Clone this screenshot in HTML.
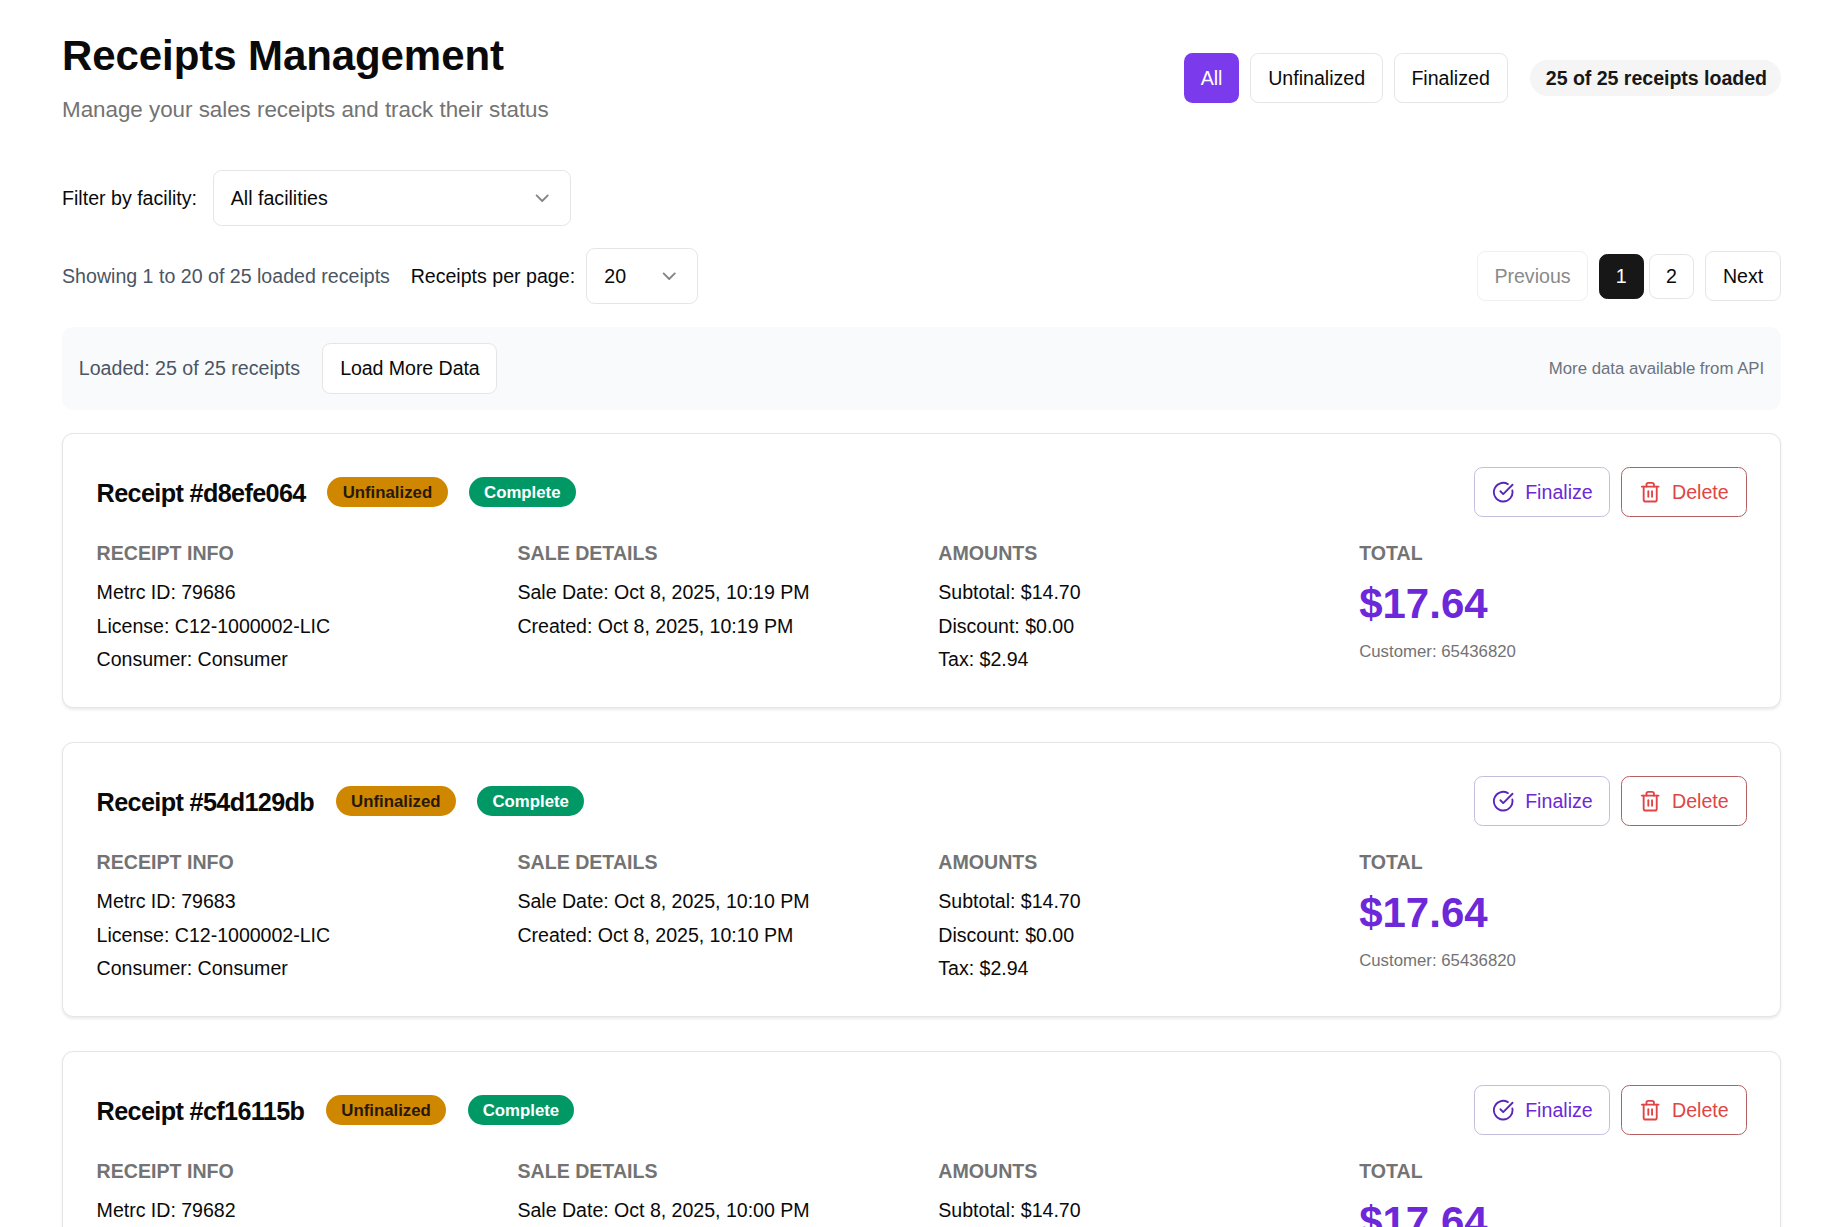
<!DOCTYPE html>
<html lang="en">
<head>
<meta charset="utf-8">
<title>Receipts Management</title>
<style>
*{box-sizing:border-box;margin:0;padding:0}
html,body{background:#fff;overflow:hidden}
body{font-family:"Liberation Sans",sans-serif;color:#0a0a0a;width:1845px;height:1227px}
#z{zoom:1.4;width:1317.86px}
.wrap{margin-left:44.3px;width:1227.86px;padding-top:22.2px}
.hdr{display:flex;justify-content:space-between;align-items:center}
h1{font-size:30px;line-height:36px;font-weight:700;letter-spacing:-0.06px}
.sub{letter-spacing:-0.017px;font-size:16px;line-height:24px;color:#737373;margin-top:8px}
.tabs{display:flex;align-items:center;gap:8px;position:relative;top:-0.5px}
.btn{display:inline-flex;align-items:center;justify-content:center;height:36px;padding:0 12px;border:1px solid #e5e5e5;border-radius:6px;font-size:14px;line-height:20px;font-weight:400;background:#fff;color:#0a0a0a;white-space:nowrap}
.btn.purple{background:#7c3aed;border:0;color:#fff}
.pill{display:inline-flex;align-items:center;border-radius:9999px;background:#f5f5f5;color:#171717;font-size:14px;font-weight:700;line-height:20px;padding:2.8px 10px 2.8px 11.3px;letter-spacing:-0.028px;margin-left:8px;white-space:nowrap;position:relative;top:0.15px}
.frow{display:flex;align-items:center;gap:11.4px;margin-top:31.4px;font-size:14px;line-height:20px}
.sel{display:flex;align-items:center;justify-content:space-between;height:40px;border:1px solid #e5e5e5;border-radius:6px;padding:0 12px;font-size:14px;background:#fff}
.sel svg{width:16px;height:16px;stroke:#848484;fill:none;stroke-width:2;stroke-linecap:round;stroke-linejoin:round}
.prow{display:flex;align-items:center;justify-content:space-between;margin-top:15.7px;font-size:14px;line-height:20px}
.prow .l{display:flex;align-items:center}
.gray{color:#4b5563}
.pager{display:flex;align-items:center}
.bar{margin-top:16px;background:#f9fafb;border-radius:8px;height:59.3px;display:flex;align-items:center;justify-content:space-between;padding:0 12px;font-size:14px}
.card{border:1px solid #e5e5e5;border-radius:8px;box-shadow:0 1px 2px rgba(0,0,0,.08);background:#fff;padding:24px;height:calc(275px / 1.4);margin-top:calc(34px / 1.4)}
.bar + .card{margin-top:16.95px}
.ch{display:flex;align-items:center;justify-content:space-between;height:36px;margin-top:-1px}
.ch .t{display:flex;align-items:center}
.ch h3{font-size:18px;line-height:28px;font-weight:700;letter-spacing:-0.45px;position:relative;top:1px}
.bdg{display:inline-flex;align-items:center;border-radius:9999px;font-size:12px;line-height:16px;font-weight:700;padding:3.7px 11px 1.9px;white-space:nowrap}
.bdg.y{background:#d08700;color:#27190a;margin-left:15.4px}
.bdg.g{background:#009966;color:#fff;margin-left:15.4px;padding-left:10.7px;padding-right:10.7px}
.acts{display:flex;gap:7.3px;position:relative;left:0.15px}
.ab{display:inline-flex;align-items:center;height:36px;border-radius:6px;border:1px solid;font-size:14px;padding:1px 0 0 12px;background:#fff}
.ab svg{width:16px;height:16px;fill:none;stroke:currentColor;stroke-width:2;stroke-linecap:round;stroke-linejoin:round;margin-right:8px}
.ab.f{color:#6d28d9;border-color:#c3bedc;width:97.6px}
.ab.f svg{color:#5b25b8}
.ab.d svg{margin-left:0.7px;margin-right:7.3px}
.ab.d{color:#e04545;border-color:#b46062;width:90px}
.grid{display:grid;grid-template-columns:repeat(4,1fr);column-gap:24px;margin-top:16px}
.grid h4{font-size:14px;line-height:20px;font-weight:700;color:#737373;text-transform:uppercase;margin-bottom:8px}
.grid p{letter-spacing:-0.02px;font-size:14px;line-height:20px;margin-bottom:4px}
.grid p:nth-of-type(3){margin-top:-0.7px}
.tot{font-size:30px;line-height:36px;font-weight:700;color:#6d28d9;position:relative;top:0.7px}
.cust{font-size:12px;line-height:16px;color:#737373;margin-top:8.4px}
</style>
</head>
<body>
<div id="z">
<div class="wrap">
  <div class="hdr">
    <div>
      <h1>Receipts Management</h1>
      <p class="sub">Manage your sales receipts and track their status</p>
    </div>
    <div class="tabs">
      <span class="btn purple" style="padding:0 11.6px">All</span>
      <span class="btn" style="position:relative;left:0.4px">Unfinalized</span>
      <span class="btn">Finalized</span>
      <span class="pill">25 of 25 receipts loaded</span>
    </div>
  </div>

  <div class="frow">
    <span>Filter by facility:</span>
    <div class="sel" style="width:256px"><span>All facilities</span><svg viewBox="0 0 24 24"><path d="m6 9 6 6 6-6"/></svg></div>
  </div>

  <div class="prow">
    <div class="l">
      <span class="gray">Showing 1 to 20 of 25 loaded receipts</span>
      <span style="margin-left:14.8px">Receipts per page:</span>
      <div class="sel" style="width:80px;margin-left:8.1px"><span>20</span><svg viewBox="0 0 24 24"><path d="m6 9 6 6 6-6"/></svg></div>
    </div>
    <div class="pager">
      <span class="btn" style="color:#8a8a8a;border-color:#efefef;padding:0 11.4px">Previous</span>
      <span class="btn" style="width:32px;height:32px;padding:0;background:#171717;border-color:#171717;color:#fff;margin-left:8px">1</span>
      <span class="btn" style="width:32px;height:32px;padding:0;margin-left:4px">2</span>
      <span class="btn" style="margin-left:8px">Next</span>
    </div>
  </div>

  <div class="bar">
    <div style="display:flex;align-items:center"><span class="gray">Loaded: 25 of 25 receipts</span><span class="btn" style="margin-left:16px;height:36.5px;letter-spacing:-0.05px">Load More Data</span></div>
    <span style="font-size:12px;color:#6b7280;position:relative;top:0.4px">More data available from API</span>
  </div>

  <div class="card">
    <div class="ch">
      <div class="t"><h3>Receipt #d8efe064</h3><span class="bdg y">Unfinalized</span><span class="bdg g">Complete</span></div>
      <div class="acts">
        <span class="ab f"><svg viewBox="0 0 24 24"><path d="M21.801 10A10 10 0 1 1 17 3.335"/><path d="m9 11 3 3L22 4"/></svg>Finalize</span>
        <span class="ab d"><svg viewBox="0 0 24 24"><path d="M3 6h18"/><path d="M19 6v14c0 1-1 2-2 2H7c-1 0-2-1-2-2V6"/><path d="M8 6V4c0-1 1-2 2-2h4c1 0 2 1 2 2v2"/><line x1="10" x2="10" y1="11" y2="17"/><line x1="14" x2="14" y1="11" y2="17"/></svg>Delete</span>
      </div>
    </div>
    <div class="grid">
      <div><h4>RECEIPT INFO</h4><p>Metrc ID: 79686</p><p>License: C12-1000002-LIC</p><p>Consumer: Consumer</p></div>
      <div><h4>SALE DETAILS</h4><p>Sale Date: Oct 8, 2025, 10:19 PM</p><p>Created: Oct 8, 2025, 10:19 PM</p></div>
      <div><h4>AMOUNTS</h4><p>Subtotal: $14.70</p><p>Discount: $0.00</p><p>Tax: $2.94</p></div>
      <div><h4>TOTAL</h4><div class="tot">$17.64</div><div class="cust">Customer: 65436820</div></div>
    </div>
  </div>

  <div class="card">
    <div class="ch">
      <div class="t"><h3>Receipt #54d129db</h3><span class="bdg y">Unfinalized</span><span class="bdg g">Complete</span></div>
      <div class="acts">
        <span class="ab f"><svg viewBox="0 0 24 24"><path d="M21.801 10A10 10 0 1 1 17 3.335"/><path d="m9 11 3 3L22 4"/></svg>Finalize</span>
        <span class="ab d"><svg viewBox="0 0 24 24"><path d="M3 6h18"/><path d="M19 6v14c0 1-1 2-2 2H7c-1 0-2-1-2-2V6"/><path d="M8 6V4c0-1 1-2 2-2h4c1 0 2 1 2 2v2"/><line x1="10" x2="10" y1="11" y2="17"/><line x1="14" x2="14" y1="11" y2="17"/></svg>Delete</span>
      </div>
    </div>
    <div class="grid">
      <div><h4>RECEIPT INFO</h4><p>Metrc ID: 79683</p><p>License: C12-1000002-LIC</p><p>Consumer: Consumer</p></div>
      <div><h4>SALE DETAILS</h4><p>Sale Date: Oct 8, 2025, 10:10 PM</p><p>Created: Oct 8, 2025, 10:10 PM</p></div>
      <div><h4>AMOUNTS</h4><p>Subtotal: $14.70</p><p>Discount: $0.00</p><p>Tax: $2.94</p></div>
      <div><h4>TOTAL</h4><div class="tot">$17.64</div><div class="cust">Customer: 65436820</div></div>
    </div>
  </div>

  <div class="card">
    <div class="ch">
      <div class="t"><h3>Receipt #cf16115b</h3><span class="bdg y">Unfinalized</span><span class="bdg g">Complete</span></div>
      <div class="acts">
        <span class="ab f"><svg viewBox="0 0 24 24"><path d="M21.801 10A10 10 0 1 1 17 3.335"/><path d="m9 11 3 3L22 4"/></svg>Finalize</span>
        <span class="ab d"><svg viewBox="0 0 24 24"><path d="M3 6h18"/><path d="M19 6v14c0 1-1 2-2 2H7c-1 0-2-1-2-2V6"/><path d="M8 6V4c0-1 1-2 2-2h4c1 0 2 1 2 2v2"/><line x1="10" x2="10" y1="11" y2="17"/><line x1="14" x2="14" y1="11" y2="17"/></svg>Delete</span>
      </div>
    </div>
    <div class="grid">
      <div><h4>RECEIPT INFO</h4><p>Metrc ID: 79682</p><p>License: C12-1000002-LIC</p><p>Consumer: Consumer</p></div>
      <div><h4>SALE DETAILS</h4><p>Sale Date: Oct 8, 2025, 10:00 PM</p><p>Created: Oct 8, 2025, 10:00 PM</p></div>
      <div><h4>AMOUNTS</h4><p>Subtotal: $14.70</p><p>Discount: $0.00</p><p>Tax: $2.94</p></div>
      <div><h4>TOTAL</h4><div class="tot">$17.64</div><div class="cust">Customer: 65436820</div></div>
    </div>
  </div>
</div>
</div>
</body>
</html>
